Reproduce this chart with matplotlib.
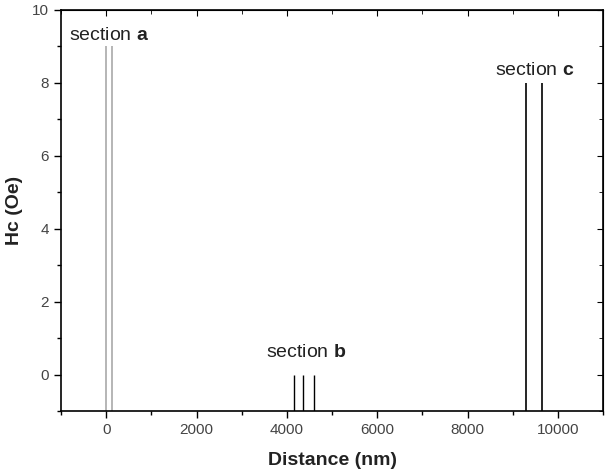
import numpy as np
import matplotlib
matplotlib.use("Agg")
import matplotlib.pyplot as plt
from matplotlib.ticker import MultipleLocator

plt.rcParams['font.family'] = ['Liberation Sans', 'DejaVu Sans']
plt.rcParams['mathtext.fontset'] = 'custom'
plt.rcParams['mathtext.rm'] = 'Liberation Sans'
plt.rcParams['mathtext.bf'] = 'Liberation Sans:bold'

# dati: posizioni (nm) e altezze (Oe) delle linee per sezione
sec_a_x = [0, 120]
sec_a_h = [9, 9]
sec_b_x = [4150, 4350, 4600]
sec_b_h = [0, 0, 0]
sec_c_x = [9300, 9650]
sec_c_h = [8, 8]

ybase = -1

fig = plt.figure(figsize=(6.09, 4.73), dpi=100)
ax = fig.add_axes([0.1002, 0.131, 0.890, 0.848])

ax.vlines(sec_a_x, ybase, sec_a_h, color='#b0b0b0', lw=1.3)
ax.vlines(sec_b_x, ybase, sec_b_h, color='black', lw=1.0)
ax.vlines(sec_c_x, ybase, sec_c_h, color='black', lw=1.2)

ax.text(-820, 9.3, r"section $\mathbf{a}$", fontsize=14, va='center', ha='left', color='#222222')
ax.text(4420, 0.6, r"section $\mathbf{b}$", fontsize=14, va='center', ha='center', color='#222222')
ax.text(9480, 8.35, r"section $\mathbf{c}$", fontsize=14, va='center', ha='center', color='#222222')

ax.set_xlim(-1000, 11000)
ax.set_ylim(-1, 10)
ax.xaxis.set_major_locator(MultipleLocator(2000))
ax.xaxis.set_minor_locator(MultipleLocator(1000))
ax.yaxis.set_major_locator(MultipleLocator(2))
ax.yaxis.set_minor_locator(MultipleLocator(1))
ax.tick_params(which='major', direction='out', length=5, width=1, labelsize=11, labelcolor='#444444')
ax.tick_params(which='minor', direction='out', length=3, width=1)

# tacche interne sopra e a destra
top = ax.secondary_xaxis('top')
top.xaxis.set_major_locator(MultipleLocator(2000))
top.xaxis.set_minor_locator(MultipleLocator(1000))
top.tick_params(which='both', direction='in', labeltop=False, length=4)
top.tick_params(which='minor', length=3)
right = ax.secondary_yaxis('right')
right.yaxis.set_major_locator(MultipleLocator(2))
right.yaxis.set_minor_locator(MultipleLocator(1))
right.tick_params(which='both', direction='in', labelright=False, length=4)
right.tick_params(which='minor', length=3)

for s in ax.spines.values():
    s.set_linewidth(1.2)

ax.set_xlabel("Distance (nm)", fontsize=14, fontweight='bold', color='#222222')
ax.set_ylabel("Hc (Oe)", fontsize=14, fontweight='bold', color='#222222')
ax.xaxis.set_label_coords(0.5, -0.103)
ax.yaxis.set_label_coords(-0.071, 0.5)

fig.savefig("out.png", dpi=100)
